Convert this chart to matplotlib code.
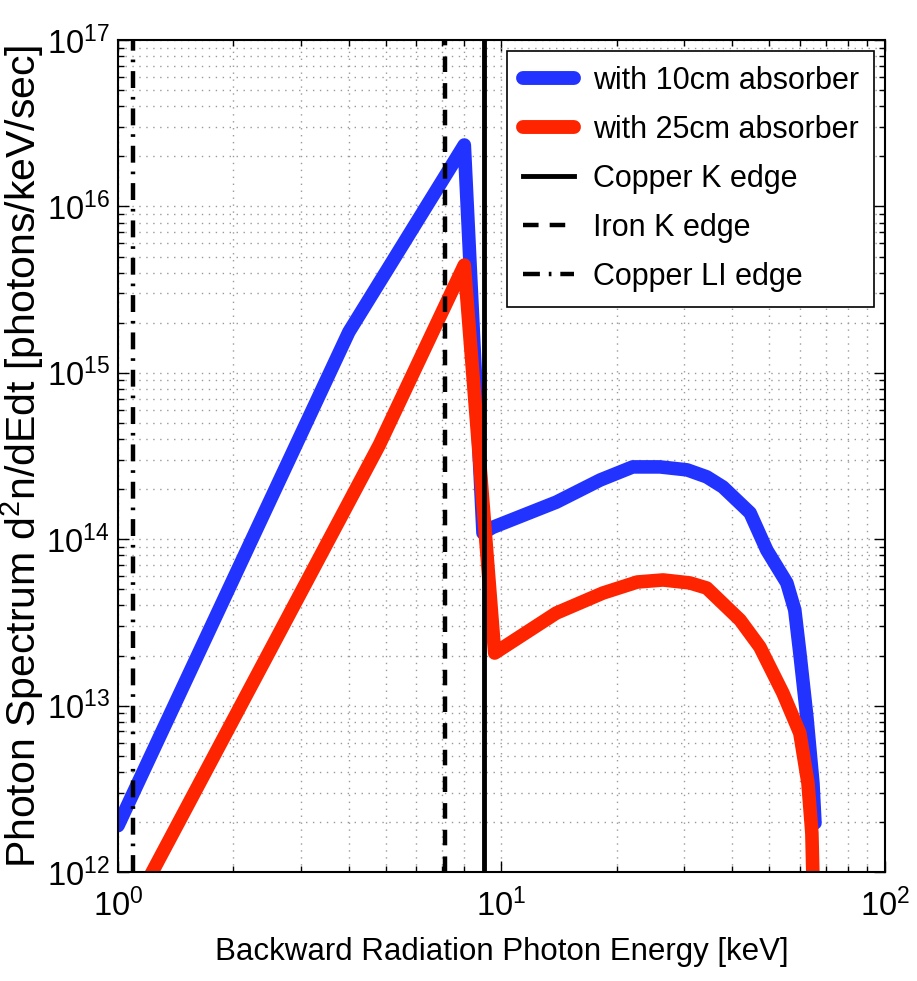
#!/usr/bin/env python3
"""Backward radiation photon spectrum with absorbers, log-log, with absorption edges."""
import matplotlib
matplotlib.use("Agg")
import matplotlib.pyplot as plt
from matplotlib.ticker import LogLocator, NullFormatter

plt.rcParams["font.family"] = ["Liberation Sans", "DejaVu Sans"]
plt.rcParams["mathtext.fontset"] = "custom"
plt.rcParams["mathtext.rm"] = "Liberation Sans"

# spectrum with 10 cm absorber (keV, photons/keV/sec)
energy_10cm = [1.0, 4.0, 8.0, 8.95, 9.5, 13.9, 18.1, 22.0, 25.9, 30.5, 34.3,
               37.8, 44.5, 49.2, 55.5, 58.2, 60.0, 62.6, 64.9, 65.7]
flux_10cm = [1.9e12, 1.76e15, 2.34e16, 1.09e14, 1.18e14, 1.67e14, 2.27e14,
             2.72e14, 2.72e14, 2.61e14, 2.37e14, 2.06e14, 1.44e14, 8.6e13,
             5.46e13, 3.76e13, 2.07e13, 8.5e12, 3.43e12, 1.97e12]

# spectrum with 25 cm absorber
energy_25cm = [1.0, 4.8, 8.0, 9.6, 13.9, 18.4, 22.6, 26.4, 31.0, 34.3, 41.9,
               47.2, 54.2, 60.0, 63.0, 64.5, 65.2]
flux_25cm = [4.1e11, 3.68e14, 4.44e15, 2.07e13, 3.6e13, 4.75e13, 5.53e13,
             5.69e13, 5.46e13, 5.09e13, 3.27e13, 2.25e13, 1.19e13, 6.84e12,
             3.43e12, 1.71e12, 6e11]

# absorption edges (keV)
copper_k_edge = 8.98
iron_k_edge = 7.11
copper_l1_edge = 1.096

BLUE = "#2233ff"
RED = "#ff2400"

fig = plt.figure(figsize=(9.17, 9.81), dpi=100)
ax = fig.add_axes([0.1287, 0.1111, 0.8363, 0.8481])

ax.plot(energy_10cm, flux_10cm, color=BLUE, lw=9.8, solid_joinstyle="round",
        solid_capstyle="round", label="with 10cm absorber")
ax.plot(energy_25cm, flux_25cm, color=RED, lw=9.8, solid_joinstyle="round",
        solid_capstyle="round", label="with 25cm absorber")
ax.axvline(copper_k_edge, color="black", lw=3.5, label="Copper K edge")
ax.axvline(iron_k_edge, color="black", lw=3.2, ls=(0, (3.5, 2.5)), label="Iron K edge")
ax.axvline(copper_l1_edge, color="black", lw=3.2, ls=(0, (3.8, 2, 0.6, 2)),
           label="Copper LI edge")

ax.set_xscale("log")
ax.set_yscale("log")
ax.set_xlim(1, 100)
ax.set_ylim(1e12, 1e17)
ax.xaxis.set_major_locator(LogLocator(base=10, numticks=10))
ax.yaxis.set_major_locator(LogLocator(base=10, numticks=10))
ax.xaxis.set_minor_locator(LogLocator(base=10, subs=range(2, 10), numticks=20))
ax.yaxis.set_minor_locator(LogLocator(base=10, subs=range(2, 10), numticks=20))
ax.xaxis.set_minor_formatter(NullFormatter())
ax.yaxis.set_minor_formatter(NullFormatter())

ax.grid(True, which="both", ls=(0, (1, 4)), color="#999999", lw=1.0)
ax.set_axisbelow(True)
ax.tick_params(which="both", direction="in", top=True, right=True, labelsize=23.5,
               width=1)
ax.tick_params(which="major", length=8)
ax.tick_params(which="minor", length=4)
ax.tick_params(axis="x", which="major", pad=12)
ax.tick_params(axis="y", which="major", pad=6)
for spine in ax.spines.values():
    spine.set_linewidth(1.5)

ax.set_xlabel("Backward Radiation Photon Energy [keV]", fontsize=22.5, labelpad=10)
ax.set_ylabel("Photon Spectrum d$^2$n/dEdt [photons/keV/sec]", fontsize=29.5,
              labelpad=0)

leg = ax.legend(loc="upper right", fontsize=22, fancybox=False, framealpha=1,
                edgecolor="black", handlelength=1.7, borderaxespad=0.35,
                labelspacing=0.62, handletextpad=0.6, borderpad=0.5)
leg.get_frame().set_linewidth(1.2)
for line in leg.get_lines()[:2]:
    line.set_linewidth(10)

fig.savefig("out.png", dpi=100)
